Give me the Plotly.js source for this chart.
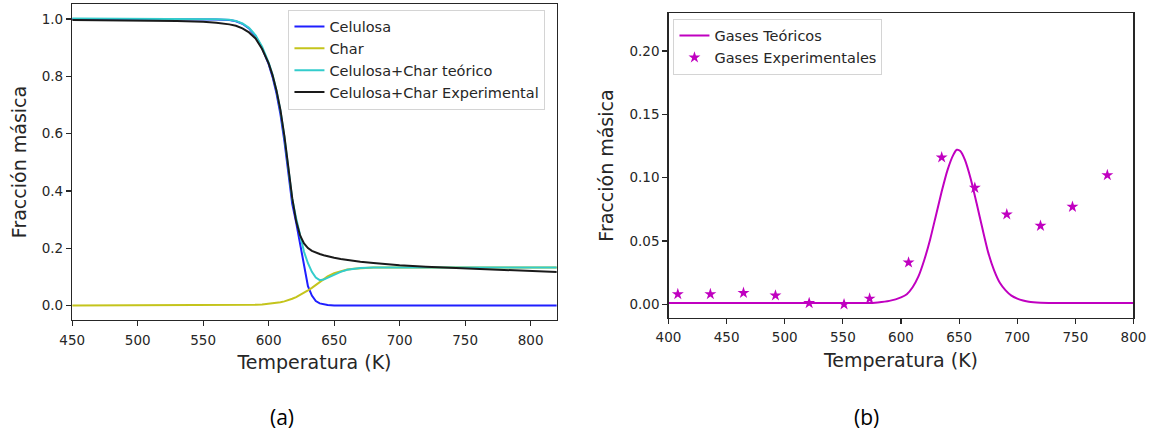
<!DOCTYPE html>
<html>
<head>
<meta charset="utf-8">
<script src="https://cdn.plot.ly/plotly-3.0.1.min.js"></script>
<style>html,body{margin:0;padding:0;background:#fff;}#chart{width:1152px;height:434px;}</style>
</head>
<body>
<div id="chart"></div>
<script>
// ---- Panel (a) data ----
const T1 = [450, 500, 530, 550, 560, 570, 575, 580, 585, 590, 595, 600, 603, 606, 609, 612, 615, 618, 621, 624, 627, 630, 633, 636, 639, 642, 645, 650, 655, 660, 665, 670, 680, 690, 700, 720, 750, 780, 800, 820];
const celulosa = [1.000, 1.000, 1.000, 0.999, 0.998, 0.996, 0.992, 0.983, 0.967, 0.940, 0.898, 0.842, 0.797, 0.740, 0.667, 0.574, 0.462, 0.355, 0.290, 0.215, 0.135, 0.068, 0.035, 0.016, 0.008, 0.004, 0.002, 0.001, 0.001, 0.001, 0.001, 0.001, 0.001, 0.001, 0.001, 0.001, 0.001, 0.001, 0.001, 0.001];
const charV = [0.001, 0.001, 0.001, 0.001, 0.001, 0.001, 0.001, 0.002, 0.002, 0.003, 0.004, 0.006, 0.008, 0.010, 0.012, 0.015, 0.019, 0.024, 0.030, 0.037, 0.045, 0.053, 0.062, 0.072, 0.083, 0.093, 0.102, 0.113, 0.120, 0.126, 0.129, 0.131, 0.133, 0.133, 0.133, 0.133, 0.133, 0.133, 0.133, 0.133];
const teorico = [1.001, 1.001, 1.001, 1.000, 0.999, 0.997, 0.993, 0.984, 0.969, 0.943, 0.903, 0.848, 0.805, 0.750, 0.680, 0.589, 0.482, 0.372, 0.305, 0.245, 0.188, 0.148, 0.118, 0.098, 0.089, 0.091, 0.097, 0.108, 0.118, 0.125, 0.129, 0.131, 0.133, 0.133, 0.133, 0.133, 0.133, 0.133, 0.133, 0.133];
const experimental = [0.996, 0.995, 0.993, 0.990, 0.987, 0.981, 0.976, 0.967, 0.953, 0.932, 0.895, 0.845, 0.803, 0.750, 0.682, 0.592, 0.488, 0.375, 0.295, 0.245, 0.217, 0.201, 0.191, 0.185, 0.180, 0.176, 0.172, 0.167, 0.163, 0.159, 0.156, 0.153, 0.149, 0.145, 0.141, 0.136, 0.131, 0.125, 0.121, 0.117];

// ---- Panel (b) data ----
const T2 = [400, 500, 570, 580, 590, 600, 605, 610, 615, 620, 625, 630, 635, 640, 645, 648, 651, 655, 660, 665, 670, 675, 680, 685, 690, 695, 700, 705, 710, 720, 740, 800];
const gasesTeo = [0.001, 0.001, 0.001, 0.0015, 0.0027, 0.0055, 0.008, 0.0135, 0.022, 0.035, 0.051, 0.070, 0.089, 0.106, 0.118, 0.122, 0.121, 0.114, 0.099, 0.080, 0.060, 0.041, 0.027, 0.017, 0.011, 0.0068, 0.0045, 0.003, 0.002, 0.0013, 0.001, 0.001];
const Texp = [408, 436, 464.5, 492, 521, 551, 573, 606.5, 635, 663.5, 691, 720, 747.5, 777.5];
const gasesExp = [0.008, 0.008, 0.009, 0.007, 0.001, 0.000, 0.0045, 0.033, 0.116, 0.092, 0.071, 0.062, 0.077, 0.102];

// ---- Labels ----
const xTicksA = [450, 500, 550, 600, 650, 700, 750, 800];
const yTicksA = [0, 0.2, 0.4, 0.6, 0.8, 1.0];
const xTicksB = [400, 450, 500, 550, 600, 650, 700, 750, 800];
const yTicksB = [0, 0.05, 0.10, 0.15, 0.20];
const namesA = ['Celulosa', 'Char', 'Celulosa+Char teórico', 'Celulosa+Char Experimental'];
const namesB = ['Gases Teóricos', 'Gases Experimentales'];
const xTitle = 'Temperatura (K)';
const yTitle = 'Fracción másica';

const ink = '#262626';
const tickFont = {family: 'DejaVu Sans', size: 13.5, color: ink};
const titleFont = {family: 'DejaVu Sans', size: 19, color: ink};
const axisBase = {
  showline: true, mirror: true, linecolor: ink, linewidth: 1.3,
  ticks: 'outside', ticklen: 5, tickwidth: 1.2, tickcolor: ink,
  tickfont: tickFont, showgrid: false, zeroline: false, fixedrange: true
};

const lw = 2;
const traces = [
  {x: T1, y: celulosa, name: namesA[0], mode: 'lines', line: {color: '#1f1fff', width: lw}, xaxis: 'x', yaxis: 'y', legend: 'legend'},
  {x: T1, y: charV, name: namesA[1], mode: 'lines', line: {color: '#c4c41c', width: lw}, xaxis: 'x', yaxis: 'y', legend: 'legend'},
  {x: T1, y: teorico, name: namesA[2], mode: 'lines', line: {color: '#33cccc', width: lw}, xaxis: 'x', yaxis: 'y', legend: 'legend'},
  {x: T1, y: experimental, name: namesA[3], mode: 'lines', line: {color: '#1a1a1a', width: lw}, xaxis: 'x', yaxis: 'y', legend: 'legend'},
  {x: T2, y: gasesTeo, name: namesB[0], mode: 'lines', line: {color: '#c000c0', width: lw, shape: 'spline', smoothing: 0.6}, xaxis: 'x2', yaxis: 'y2', legend: 'legend2'},
  {x: Texp, y: gasesExp, name: namesB[1], mode: 'markers', marker: {symbol: 'star', size: 9, color: '#c000c0'}, xaxis: 'x2', yaxis: 'y2', legend: 'legend2'}
];

const legendBase = {
  xanchor: 'left', yanchor: 'top', bgcolor: 'rgba(255,255,255,0.85)',
  bordercolor: '#d4d4d4', borderwidth: 1,
  font: {family: 'DejaVu Sans', size: 14.5, color: ink}
};

const layout = {
  width: 1152, height: 434,
  margin: {l: 0, r: 0, t: 0, b: 0},
  paper_bgcolor: '#ffffff', plot_bgcolor: '#ffffff',
  showlegend: true,
  xaxis: Object.assign({}, axisBase, {domain: [0.06267, 0.48333], range: [450, 820], tickvals: xTicksA, anchor: 'y', ticklabelstandoff: 2,
    title: {text: xTitle, font: titleFont, standoff: 9}}),
  yaxis: Object.assign({}, axisBase, {domain: [0.26267, 0.99078], range: [-0.05, 1.052], tickvals: yTicksA, tickformat: '.1f', anchor: 'x',
    title: {text: yTitle, font: titleFont, standoff: 10}}),
  xaxis2: Object.assign({}, axisBase, {domain: [0.5803, 0.98394], range: [400, 800], tickvals: xTicksB, anchor: 'y2', ticklabelstandoff: 2,
    title: {text: xTitle, font: titleFont, standoff: 9}}),
  yaxis2: Object.assign({}, axisBase, {domain: [0.26797, 0.96935], range: [-0.01058, 0.2298], tickvals: yTicksB, tickformat: '.2f', anchor: 'x2',
    title: {text: yTitle, font: titleFont, standoff: 10}}),
  legend: Object.assign({}, legendBase, {x: 0.2504, y: 0.978}),
  legend2: Object.assign({}, legendBase, {x: 0.5846, y: 0.957}),
  annotations: [
    {text: '(a)', x: 0.2445, y: 0.0392, xref: 'paper', yref: 'paper', xanchor: 'center', yanchor: 'middle', showarrow: false,
     font: {family: 'Open Sans', size: 21, color: '#000'}},
    {text: '(b)', x: 0.7523, y: 0.0392, xref: 'paper', yref: 'paper', xanchor: 'center', yanchor: 'middle', showarrow: false,
     font: {family: 'Open Sans', size: 21, color: '#000'}}
  ]
};

Plotly.newPlot('chart', traces, layout, {displayModeBar: false, staticPlot: true});
</script>
</body>
</html>
